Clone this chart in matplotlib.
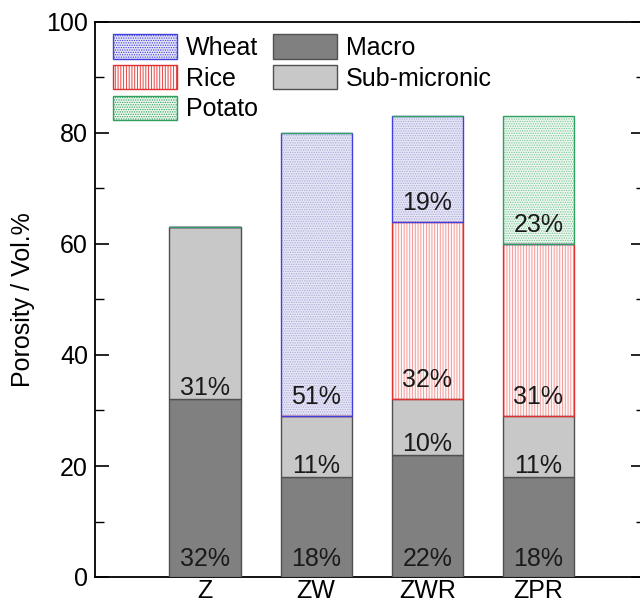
import matplotlib
matplotlib.use('Agg')
import matplotlib.pyplot as plt
import numpy as np
from matplotlib.patches import Patch

samples = ['Z', 'ZW', 'ZWR', 'ZPR']
macro = [32, 18, 22, 18]
submicronic = [31, 11, 10, 11]
rice = [0, 0, 32, 31]
wheat = [0, 51, 19, 0]
potato = [0, 0, 0, 23]

plt.rcParams['font.family'] = ['Liberation Sans', 'DejaVu Sans']
plt.rcParams['hatch.linewidth'] = 0.6
FS = 18

fig = plt.figure(figsize=(6.4, 6.05), dpi=100)
ax = fig.add_axes([95 / 640, 28 / 605, 550 / 640, 555 / 605])

x = np.arange(1, len(samples) + 1)
w = 0.64

# name, values, face, hatch colour, hatch, edge, label gap (data units)
series = [
    ('Macro', macro, '#808080', None, None, '#505050', 2.0),
    ('Sub-micronic', submicronic, '#c8c8c8', None, None, '#505050', 0.75),
    ('Rice', rice, '#fff6f6', '#f29090', '||||||', '#e03030', 2.2),
    ('Wheat', wheat, '#e6e6f6', '#a8a8d8', '.......', '#4040e0', 2.2),
    ('Potato', potato, '#ecf7ee', '#78c498', '.......', '#30a060', 2.2),
]

bottom = np.zeros(len(samples))
handles = {}
for name, vals, face, hcol, hatch, edge, gap in series:
    vals = np.array(vals, dtype=float)
    if hatch:
        ax.bar(x, vals, w, bottom=bottom, color=face, edgecolor=hcol,
               hatch=hatch, linewidth=0, zorder=2)
        ax.bar(x, vals, w, bottom=bottom, fill=False, edgecolor=edge,
               linewidth=1, zorder=3)
    else:
        ax.bar(x, vals, w, bottom=bottom, color=face, edgecolor=edge,
               linewidth=1, zorder=3)
    for xi, b, v in zip(x, bottom, vals):
        if v > 0:
            ax.text(xi, b + gap, '%d%%' % v, ha='center', va='baseline',
                    fontsize=FS, color='#1a1a1a', zorder=5)
    bottom = bottom + vals
    handles[name] = (face, hcol, hatch, edge)


def make_handle(name):
    face, hcol, hatch, edge = handles[name]
    if hatch:
        return Patch(facecolor=face, edgecolor=edge, hatch=hatch, linewidth=1)
    return Patch(facecolor=face, edgecolor=edge, linewidth=1)


leg_kw = dict(loc='upper left', frameon=False, fontsize=FS, handlelength=2.55,
              handleheight=1.12, labelspacing=0.2, handletextpad=0.35,
              borderpad=0, borderaxespad=0)
names1 = ['Wheat', 'Rice', 'Potato']
leg1 = ax.legend([make_handle(n) for n in names1], names1,
                 bbox_to_anchor=(0.033, 0.978), **leg_kw)
ax.add_artist(leg1)
names2 = ['Macro', 'Sub-micronic']
ax.legend([make_handle(n) for n in names2], names2,
          bbox_to_anchor=(0.324, 0.978), **leg_kw)

ax.set_xlim(0.01, 4.96)
ax.set_ylim(0, 100)
ax.set_xticks(x)
ax.set_xticklabels(samples, fontsize=FS)
ax.set_yticks(np.arange(0, 101, 20))
ax.set_yticks(np.arange(10, 100, 20), minor=True)
ax.tick_params(axis='y', which='major', direction='in', length=10, width=1.2,
               labelsize=FS, right=True, pad=5)
ax.tick_params(axis='y', which='minor', direction='in', length=6.5, width=1.0,
               right=True)
ax.tick_params(axis='x', length=0, pad=1.5)
for s in ax.spines.values():
    s.set_linewidth(1.3)
ax.set_ylabel('Porosity / Vol.%', fontsize=FS, labelpad=8)

fig.savefig('out.png', dpi=100)
